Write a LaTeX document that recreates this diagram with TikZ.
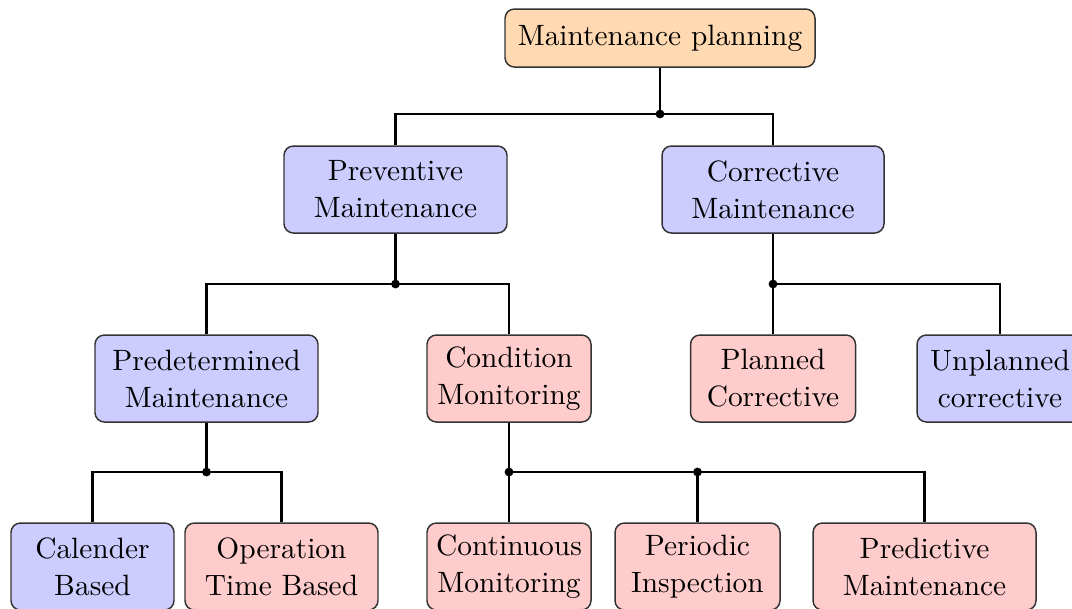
\documentclass[tikz,border=0pt]{standalone}
\usetikzlibrary{positioning}
\tikzset{
  box/.style={draw=black!80, line width=0.5pt, rounded corners=3.2pt, align=center,
    inner sep=2pt, font=\fontsize{10}{12.6}\selectfont, minimum height=87*0.34pt},
  rootbox/.style={box, fill=orange!30, minimum height=58*0.34pt},
  bluebox/.style={box, fill=blue!20},
  redbox/.style={box, fill=red!20},
  link/.style={line width=0.75pt, black},
  dot/.style={circle, fill=black, inner sep=0pt, minimum size=3pt}
}
\begin{document}
\begin{tikzpicture}[x=0.34pt, y=-0.34pt]
\useasboundingbox (0,0) rectangle (1072,608);

% tree levels
\node[rootbox, minimum width=310*0.34pt] (root) at (660,38) {Maintenance planning};

\node[bluebox, minimum width=223*0.34pt] (prev) at (395.5,189.5) {Preventive\\Maintenance};
\node[bluebox, minimum width=222*0.34pt] (corr) at (773,189.5) {Corrective\\Maintenance};

\node[bluebox, minimum width=223*0.34pt] (pred) at (206.5,378.5) {Predetermined\\Maintenance};
\node[redbox, minimum width=164*0.34pt] (cond) at (509,378.5) {Condition\\Monitoring};
\node[redbox, minimum width=165*0.34pt] (plan) at (773,378.5) {Planned\\Corrective};
\node[bluebox, minimum width=166*0.34pt] (unpl) at (1000,378.5) {Unplanned\\corrective};

\node[bluebox, minimum width=163*0.34pt] (cal) at (92.5,566.5) {Calender\\Based};
\node[redbox, minimum width=193*0.34pt] (opt) at (281.5,566.5) {Operation\\Time Based};
\node[redbox, minimum width=164*0.34pt] (cont) at (509,566.5) {Continuous\\Monitoring};
\node[redbox, minimum width=165*0.34pt] (peri) at (697.5,566.5) {Periodic\\Inspection};
\node[redbox, minimum width=223*0.34pt] (pdm) at (924.5,566.5) {Predictive\\Maintenance};

% branch points
\coordinate (j1) at (660,114);
\coordinate (j2) at (395.5,284);
\coordinate (j3) at (773,284);
\coordinate (j4) at (206.5,472);
\coordinate (j5) at (509,472);
\coordinate (j6) at (697.5,472);

% connectors
\draw[link] (root.south) -- (j1);
\draw[link] (prev.north) |- (j1) -| (corr.north);

\draw[link] (prev.south) -- (j2);
\draw[link] (pred.north) |- (j2) -| (cond.north);

\draw[link] (corr.south) -- (plan.north);
\draw[link] (j3) -| (unpl.north);

\draw[link] (pred.south) -- (j4);
\draw[link] (cal.north) |- (j4) -| (opt.north);

\draw[link] (cond.south) -- (cont.north);
\draw[link] (j5) -- (j6) -| (pdm.north);
\draw[link] (j6) -- (peri.north);

\foreach \j in {j1,j2,j3,j4,j5,j6} \node[dot] at (\j) {};
\end{tikzpicture}
\end{document}
